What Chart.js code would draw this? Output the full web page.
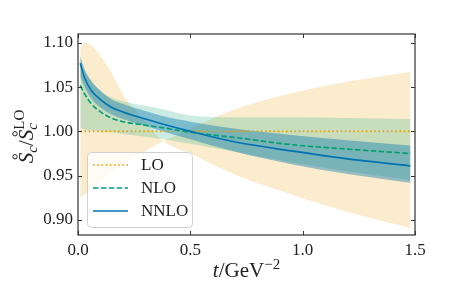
<!DOCTYPE html>
<html>
<head>
<meta charset="utf-8">
<script src="https://cdn.jsdelivr.net/npm/chart.js@4/dist/chart.umd.min.js"></script>
<style>
  html, body { margin: 0; padding: 0; background: #fff; }
  canvas { display: block; }
</style>
</head>
<body>
<canvas id="chart" width="461" height="284"></canvas>
<script>
// t grid (GeV^-2) shared by every series
const tGrid = [0.01, 0.03, 0.06, 0.1, 0.15, 0.2, 0.3, 0.38, 0.5, 0.7, 0.95, 1.2, 1.48];

// LO: central value and the two edges of its band (they cross near t = 0.38)
const loCentral = [1, 1, 1, 1, 1, 1, 1, 1, 1, 1, 1, 1, 1];
const loEdgeA = [1.094, 1.100, 1.097, 1.085, 1.066, 1.042, 1.010, 0.989, 0.975, 0.951, 0.929, 0.909, 0.891];
const loEdgeB = [0.925, 0.929, 0.935, 0.943, 0.953, 0.962, 0.978, 0.989, 1.003, 1.025, 1.043, 1.056, 1.067];

// NLO
const nloCentral = [1.052, 1.042, 1.031, 1.022, 1.015, 1.011, 1.007, 1.004, 0.999, 0.993, 0.985, 0.980, 0.975];
const nloUpper = [1.083, 1.068, 1.056, 1.046, 1.038, 1.034, 1.029, 1.025, 1.018, 1.016, 1.016, 1.015, 1.014];
const nloLower = [1.004, 1.002, 1.001, 1.000, 0.999, 0.997, 0.994, 0.991, 0.986, 0.977, 0.965, 0.955, 0.945];

// NNLO
const nnloCentral = [1.077, 1.060, 1.046, 1.036, 1.027, 1.022, 1.014, 1.008, 1.000, 0.988, 0.978, 0.969, 0.961];
const nnloUpper = [1.085, 1.070, 1.057, 1.046, 1.036, 1.031, 1.023, 1.017, 1.011, 1.003, 0.996, 0.990, 0.984];
const nnloLower = [1.062, 1.050, 1.037, 1.027, 1.019, 1.014, 1.006, 1.000, 0.991, 0.977, 0.963, 0.952, 0.942];

const xTicks = [0, 0.5, 1.0, 1.5];
const yTicks = [0.90, 0.95, 1.00, 1.05, 1.10];
const legendLabels = ['LO', 'NLO', 'NNLO'];

const cOrange = '#E69F00';
const cGreen = '#009E73';
const cBlue = '#0072B2';
const serif = '"Liberation Serif", "DejaVu Serif", serif';

const pts = vals => vals.map((v, i) => ({x: tGrid[i], y: v}));

function line(label, vals, color, dash, order) {
  return {
    label: label, data: pts(vals), borderColor: color, borderWidth: 1.6,
    borderDash: dash, pointRadius: 0, fill: false, order: order,
    cubicInterpolationMode: 'monotone'
  };
}
function edge(vals, order, fillColor) {
  return {
    label: '', data: pts(vals), borderWidth: 0, borderColor: 'rgba(0,0,0,0)',
    pointRadius: 0, order: order, cubicInterpolationMode: 'monotone',
    fill: fillColor ? {target: '-1', above: fillColor, below: fillColor} : false,
    backgroundColor: fillColor || 'rgba(0,0,0,0)'
  };
}

// draw a run of text pieces; piece {t, f, dy, keep, ring}
// keep: next piece is stacked on this one; ring: put a ring accent over it
function drawRich(ctx, parts, cx, baseY) {
  const widths = parts.map(p => { ctx.font = p.f; return ctx.measureText(p.t).width; });
  let total = 0, adv = 0;
  parts.forEach((p, i) => {
    if (p.keep) { adv = Math.max(adv, widths[i]); } else { total += Math.max(adv, widths[i]); adv = 0; }
  });
  let x = cx - total / 2;
  adv = 0;
  parts.forEach((p, i) => {
    ctx.font = p.f;
    const w = widths[i];
    ctx.fillText(p.t, x, baseY + (p.dy || 0));
    if (p.ring) {
      ctx.beginPath();
      ctx.lineWidth = 1;
      ctx.arc(x + w * 0.62, baseY - 18, 2.2, 0, Math.PI * 2);
      ctx.stroke();
    }
    if (p.keep) { adv = Math.max(adv, w); } else { x += Math.max(adv, w); adv = 0; }
  });
}

const frame = {
  id: 'frame',
  afterDraw(chart) {
    const ctx = chart.ctx;
    const a = chart.chartArea;
    const xs = chart.scales.x, ys = chart.scales.y;
    ctx.save();
    ctx.strokeStyle = '#333';
    ctx.lineWidth = 1;
    // inward ticks on all four sides
    ctx.beginPath();
    xTicks.forEach(v => {
      const px = Math.round(xs.getPixelForValue(v)) + 0.5;
      ctx.moveTo(px, a.bottom); ctx.lineTo(px, a.bottom - 4);
      ctx.moveTo(px, a.top); ctx.lineTo(px, a.top + 4);
    });
    yTicks.forEach(v => {
      const py = Math.round(ys.getPixelForValue(v)) + 0.5;
      ctx.moveTo(a.left, py); ctx.lineTo(a.left + 4, py);
      ctx.moveTo(a.right, py); ctx.lineTo(a.right - 4, py);
    });
    ctx.stroke();
    ctx.lineWidth = 1.2;
    ctx.strokeRect(a.left, a.top, a.right - a.left, a.bottom - a.top);

    // legend box
    const bx = 87, by = 152, bw = 105, bh = 75;
    ctx.beginPath();
    ctx.roundRect(bx + 0.5, by + 0.5, bw, bh, 4);
    ctx.fillStyle = 'rgba(255,255,255,0.8)';
    ctx.fill();
    ctx.strokeStyle = '#d0d0d0';
    ctx.lineWidth = 1;
    ctx.stroke();
    const styles = [[cOrange, [1.6, 2.6]], [cGreen, [5.5, 2.4]], [cBlue, []]];
    legendLabels.forEach((lab, i) => {
      const y = 165 + i * 23;
      ctx.beginPath();
      ctx.strokeStyle = styles[i][0];
      ctx.setLineDash(styles[i][1]);
      ctx.lineWidth = 1.6;
      ctx.moveTo(93, y); ctx.lineTo(128, y);
      ctx.stroke();
      ctx.setLineDash([]);
      ctx.fillStyle = '#222';
      ctx.font = '17px ' + serif;
      ctx.textBaseline = 'middle';
      ctx.textAlign = 'left';
      ctx.fillText(lab, 141, y + 1);
    });

    // axis titles
    ctx.fillStyle = '#222';
    ctx.strokeStyle = '#222';
    ctx.textBaseline = 'alphabetic';
    ctx.textAlign = 'left';
    const big = '21px ' + serif, bigI = 'italic 21px ' + serif;
    const small = '15px ' + serif, smallI = 'italic 15px ' + serif;
    drawRich(ctx, [
      {t: 't', f: bigI}, {t: '/GeV', f: big}, {t: '\u22122', f: small, dy: -8}
    ], (a.left + a.right) / 2, 277);

    ctx.translate(33, (a.top + a.bottom) / 2 + 2);
    ctx.rotate(-Math.PI / 2);
    drawRich(ctx, [
      {t: 'S', f: bigI, ring: true}, {t: 'c', f: smallI, dy: 4},
      {t: '/', f: big},
      {t: 'S', f: bigI, ring: true}, {t: 'c', f: smallI, dy: 4, keep: true},
      {t: 'LO', f: small, dy: -9}
    ], 0, 0);
    ctx.restore();
  }
};

new Chart(document.getElementById('chart').getContext('2d'), {
  type: 'line',
  data: {
    datasets: [
      line('NNLO', nnloCentral, cBlue, [], 1),
      line('NLO', nloCentral, cGreen, [5.5, 2.4], 2),
      line('LO', loCentral, cOrange, [1.6, 2.6], 3),
      edge(nnloUpper, 4),
      edge(nnloLower, 4, 'rgba(0,114,178,0.4)'),
      edge(nloUpper, 5),
      edge(nloLower, 5, 'rgba(0,158,115,0.2)'),
      edge(loEdgeA, 6),
      edge(loEdgeB, 6, 'rgba(230,159,0,0.2)')
    ]
  },
  options: {
    responsive: false,
    animation: false,
    devicePixelRatio: 1,
    layout: {padding: {left: 0, right: 46, top: 34, bottom: 0}},
    plugins: {legend: {display: false}, tooltip: {enabled: false}},
    scales: {
      x: {
        type: 'linear', min: 0, max: 1.5,
        afterFit: s => { s.height = 49; },
        afterBuildTicks: s => { s.ticks = xTicks.map(v => ({value: v})); },
        grid: {display: false, drawTicks: false},
        border: {display: false},
        ticks: {
          padding: 5, color: '#222', font: {family: serif, size: 17},
          maxRotation: 0, callback: v => v.toFixed(1)
        }
      },
      y: {
        type: 'linear', min: 0.883, max: 1.11,
        afterFit: s => { s.width = 78; },
        afterBuildTicks: s => { s.ticks = yTicks.map(v => ({value: v})); },
        grid: {display: false, drawTicks: false},
        border: {display: false},
        ticks: {
          padding: 5, color: '#222', font: {family: serif, size: 17},
          callback: v => v.toFixed(2)
        }
      }
    }
  },
  plugins: [frame]
});
</script>
</body>
</html>
